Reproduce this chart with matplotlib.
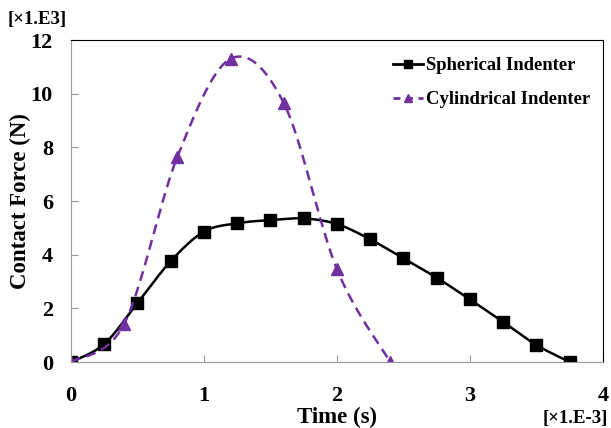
import numpy as np
import matplotlib.pyplot as plt

plt.rcParams['font.family'] = ['Liberation Serif', 'DejaVu Serif']
plt.rcParams['font.weight'] = 'bold'

# time in ms (x1.E-3 s), force in kN (x1.E3 N)
t_sph = [0, 0.25, 0.5, 0.75, 1.0, 1.25, 1.5, 1.75, 2.0, 2.25, 2.5, 2.75, 3.0, 3.25, 3.5, 3.75]
f_sph = [0, 0.67, 2.2, 3.76, 4.86, 5.17, 5.29, 5.35, 5.14, 4.57, 3.86, 3.14, 2.33, 1.49, 0.63, 0]
t_cyl = [0, 0.4, 0.8, 1.2, 1.6, 2.0, 2.4]
f_cyl = [0, 1.42, 7.65, 11.3, 9.65, 3.45, 0]

purple = '#7030A0'


def smooth(x, y, n=30):
    # excel-like smoothed line: cubic bezier with catmull-rom control points
    x = np.asarray(x, float)
    y = np.asarray(y, float)
    px = np.concatenate([[x[0]], x, [x[-1]]])
    py = np.concatenate([[y[0]], y, [y[-1]]])
    xs, ys = [], []
    s = np.linspace(0, 1, n)
    for i in range(1, len(px) - 2):
        p0 = np.array([px[i], py[i]])
        p3 = np.array([px[i + 1], py[i + 1]])
        p1 = p0 + (np.array([px[i + 1], py[i + 1]]) - np.array([px[i - 1], py[i - 1]])) / 6
        p2 = p3 - (np.array([px[i + 2], py[i + 2]]) - np.array([px[i], py[i]])) / 6
        b = ((1 - s) ** 3)[:, None] * p0 + (3 * (1 - s) ** 2 * s)[:, None] * p1 \
            + (3 * (1 - s) * s ** 2)[:, None] * p2 + (s ** 3)[:, None] * p3
        xs.extend(b[:, 0])
        ys.extend(b[:, 1])
    return xs, ys


fig = plt.figure(figsize=(6.11, 4.28), dpi=100)
ax = fig.add_axes([0.1162, 0.1542, 0.8707, 0.7523])

sx, sy = smooth(t_sph, f_sph)
ax.plot(sx, sy, color='black', lw=1.8)
ax.plot(t_sph, f_sph, 's', color='black', ms=8)
ax.plot([], [], '-s', color='black', ms=6, lw=2, label='Spherical Indenter')

cx, cy = smooth(t_cyl, f_cyl)
ax.plot(cx, cy, '--', color=purple, lw=1.8, dashes=(4, 2.5))
ax.plot(t_cyl, f_cyl, '^', color=purple, ms=9)
ax.plot([], [], '--^', color=purple, ms=6, lw=2, dashes=(2.5, 2), label='Cylindrical Indenter')

ax.set_xlim(0, 4)
ax.set_ylim(0, 12)
ax.set_xticks([0, 1, 2, 3, 4])
ax.set_yticks([0, 2, 4, 6, 8, 10, 12])
ax.tick_params(direction='in', color='#999999', length=5, labelsize=16)
ax.tick_params(axis='y', pad=13)
ax.tick_params(axis='x', pad=17)
for lab in ax.get_xticklabels() + ax.get_yticklabels():
    lab.set_fontweight('bold')
ax.spines['left'].set_color('#999999')
ax.spines['bottom'].set_color('#999999')
ax.spines['top'].set_color('black')
ax.spines['right'].set_color('black')

ax.set_xlabel('Time (s)', fontsize=16.5, fontweight='bold')
ax.set_ylabel('Contact Force (N)', fontsize=16.5, fontweight='bold')
ax.xaxis.set_label_coords(0.5, -0.14)
ax.yaxis.set_label_coords(-0.075, 0.5)

fig.text(0.013, 0.955, '[\u00d71.E3]', fontsize=13.5, fontweight='bold', va='center')
fig.text(0.995, 0.022, '[\u00d71.E-3]', fontsize=13.5, fontweight='bold', va='center', ha='right')

ax.legend(loc='upper left', frameon=False, fontsize=13.4, handlelength=1.6,
          handletextpad=0.2, labelspacing=0.92, borderpad=0, borderaxespad=0,
          bbox_to_anchor=(0.605, 0.947))

fig.savefig('out.png', dpi=100)
